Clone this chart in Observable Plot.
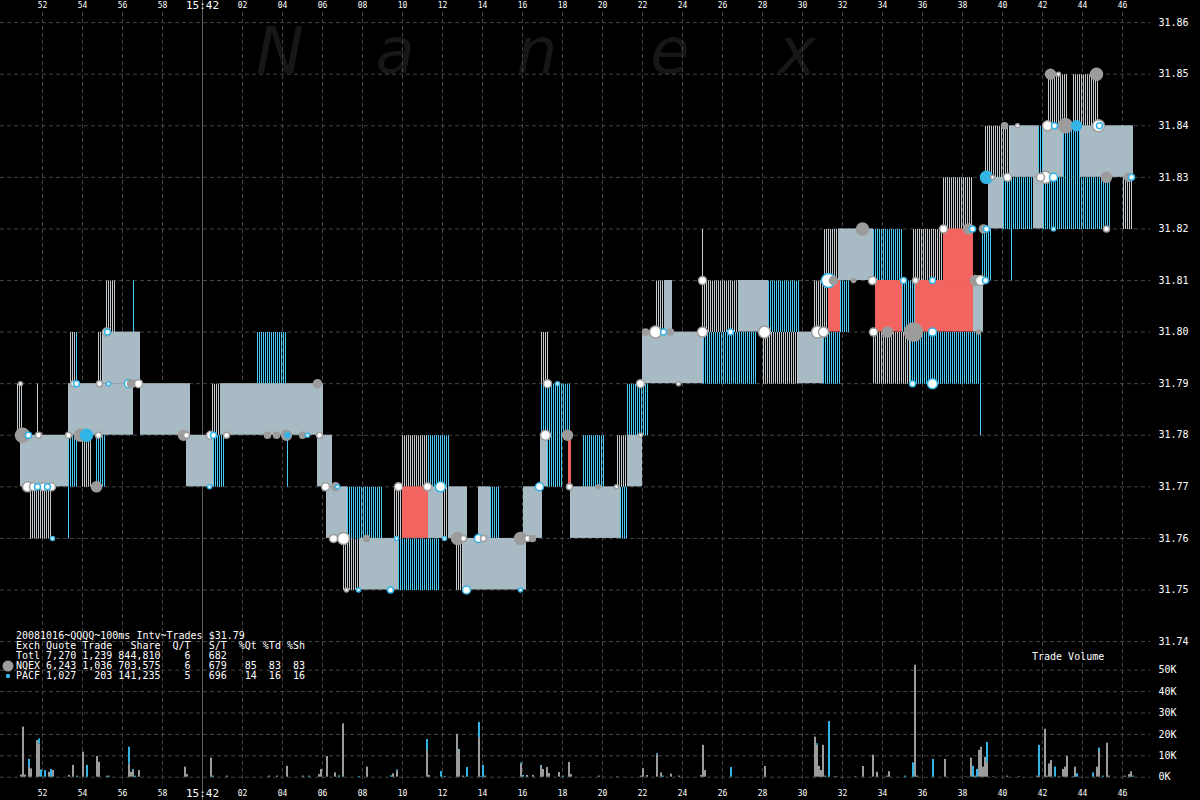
<!DOCTYPE html>
<html><head><meta charset="utf-8">
<script src="https://cdn.jsdelivr.net/npm/d3@7"></script>
<script src="https://cdn.jsdelivr.net/npm/@observablehq/plot@0.6"></script>
<style>
html,body{margin:0;padding:0;background:#000;}
#wrap{position:relative;width:1200px;height:800px;background:#000;overflow:hidden;font-family:"DejaVu Sans Mono",monospace;color:#fff;}
#wrap svg.plot{position:absolute;left:0;top:0;}
#mark{position:absolute;left:0;top:0;width:1200px;height:100px;font-family:"DejaVu Sans",sans-serif;font-style:italic;font-size:64px;line-height:64px;color:#171717;}
#mark span{position:absolute;top:19px;transform:translateX(-50%);}
#legend{position:absolute;left:16px;top:631px;font-size:10px;line-height:10px;white-space:pre;}
#vt{position:absolute;left:1032px;top:652px;font-size:10px;line-height:10px;white-space:pre;}
#lgdots{position:absolute;left:0;top:655px;}
</style></head>
<body>
<div id="wrap">
  <div id="mark"><span style="left:280px">N</span><span style="left:395px">a</span><span style="left:537px">n</span><span style="left:670px">e</span><span style="left:797px">x</span></div>
</div>
<script>
// ---------- data ----------
// time = seconds after 15:41:00
const timeTicks = [52,54,56,58,60,62,64,66,68,70,72,74,76,78,80,82,84,86,88,90,92,94,96,98,100,102,104,106];
const timeTickLabels = ["52","54","56","58","15:42","02","04","06","08","10","12","14","16","18","20","22","24","26","28","30","32","34","36","38","40","42","44","46"];
const priceTicks = [31.74,31.75,31.76,31.77,31.78,31.79,31.80,31.81,31.82,31.83,31.84,31.85,31.86];
const volTicks = [0,10,20,30,40,50];
const volTickLabels = ["0K","10K","20K","30K","40K","50K"];

// quote spreads [start, end, bid, ask]
const quotesBoth = [
[50.9,53.3,31.77,31.78],[53.3,56.55,31.78,31.79],[55.05,56.9,31.79,31.80],[56.9,59.4,31.78,31.79],
[59.2,60.55,31.77,31.78],[60.9,66.05,31.78,31.79],[65.75,66.5,31.77,31.78],[66.2,67.25,31.76,31.77],
[67.9,69.8,31.75,31.76],[71.3,72.0,31.76,31.77],[72.3,73.25,31.76,31.77],[73.05,76.2,31.75,31.76],
[73.8,74.4,31.76,31.77],[76.05,77.0,31.76,31.77],[76.9,77.25,31.77,31.78],[78.4,80.9,31.76,31.77],
[81.25,82.0,31.77,31.78],[82.0,83.4,31.79,31.80],[83.1,83.5,31.80,31.81],[83.4,85.05,31.79,31.80],
[86.8,88.3,31.80,31.81],[89.8,91.05,31.79,31.80],[91.8,93.55,31.81,31.82],[98.55,99.05,31.80,31.81],
[99.3,100.05,31.82,31.83],[101.55,102.05,31.82,31.83],[100.4,101.8,31.83,31.84],[102.05,103.05,31.83,31.84],
[103.9,106.55,31.83,31.84]
];
const quotesNQEX = [
[50.75,51.0,31.78,31.79],[51.4,52.5,31.76,31.77],[51.75,51.85,31.78,31.79],[53.4,53.7,31.79,31.80],
[54.0,54.5,31.77,31.78],[54.8,55.05,31.79,31.80],[55.2,55.65,31.80,31.81],[60.5,60.9,31.78,31.79],
[67.05,67.9,31.75,31.76],[69.6,70.0,31.76,31.77],[72.0,72.3,31.76,31.77],[70.0,71.3,31.77,31.78],
[72.7,73.05,31.75,31.76],[76.95,77.3,31.79,31.80],[80.75,81.25,31.77,31.78],[82.7,83.1,31.80,31.81],
[85.0,85.1,31.81,31.82],[85.0,86.8,31.80,31.81],[88.05,89.8,31.79,31.80],[90.6,91.3,31.80,31.81],
[91.1,91.8,31.81,31.82],[93.55,95.4,31.79,31.80],[95.55,97.05,31.81,31.82],[97.05,98.5,31.82,31.83],
[99.15,100.4,31.83,31.84],[102.3,103.3,31.84,31.85],[103.55,104.85,31.84,31.85],[106.05,106.55,31.82,31.83]
];
const quotesPACF = [
[53.3,53.4,31.76,31.77],[53.3,53.8,31.77,31.78],[53.7,53.8,31.79,31.80],[54.7,55.15,31.77,31.78],
[56.55,56.65,31.80,31.81],[60.55,61.1,31.77,31.78],[62.75,64.2,31.79,31.80],[64.25,64.35,31.77,31.78],
[67.25,69.0,31.76,31.77],[69.8,71.9,31.75,31.76],[71.3,72.4,31.77,31.78],[74.4,74.9,31.76,31.77],
[77.25,78.0,31.77,31.78],[76.95,78.4,31.78,31.79],[79.05,80.15,31.77,31.78],[80.9,81.3,31.76,31.77],
[81.25,82.3,31.78,31.79],[85.05,87.7,31.79,31.80],[88.3,89.9,31.80,31.81],[91.05,91.9,31.79,31.80],
[91.9,92.4,31.80,31.81],[93.55,95.0,31.81,31.82],[95.4,99.0,31.79,31.80],[95.0,95.65,31.80,31.81],
[98.9,99.0,31.78,31.79],[98.9,99.0,31.79,31.80],[99.0,99.5,31.81,31.82],[100.05,101.55,31.82,31.83],
[102.05,105.4,31.82,31.83],[101.8,102.05,31.83,31.84],[103.05,103.9,31.83,31.84],[100.45,100.55,31.81,31.82]
];
const quotesCrossed = [
[70.0,71.3,31.76,31.77],[78.3,78.45,31.77,31.78],[91.3,91.9,31.80,31.81],
[93.65,95.0,31.80,31.81],[95.65,98.55,31.80,31.81],[97.05,98.55,31.81,31.82]
];

// trades [time, price, exchange, shares, open(1)/filled(0)]
const trades = [
[50.9,31.79,"NQEX",400,1],[51.0,31.78,"NQEX",4900,0],[51.3,31.78,"PACF",900,1],[51.8,31.78,"NQEX",900,1],
[51.25,31.77,"NQEX",2500,1],[51.55,31.77,"NQEX",1600,1],[51.75,31.77,"PACF",900,1],[52.05,31.77,"NQEX",1600,1],
[52.25,31.77,"PACF",900,1],[52.45,31.77,"NQEX",1600,1],[52.5,31.76,"PACF",400,1],[53.3,31.78,"NQEX",900,1],
[53.9,31.78,"NQEX",3600,0],[54.2,31.78,"PACF",3600,0],[54.8,31.78,"NQEX",900,1],[54.7,31.77,"NQEX",2500,0],
[53.55,31.79,"NQEX",900,1],[53.7,31.79,"PACF",900,1],[54.85,31.79,"NQEX",900,1],[55.3,31.79,"PACF",400,1],
[55.2,31.80,"NQEX",1600,1],[55.25,31.80,"PACF",900,1],[56.3,31.79,"PACF",1600,1],[56.45,31.79,"NQEX",1600,0],
[56.8,31.79,"NQEX",1600,1],[59.05,31.78,"NQEX",2500,0],[59.2,31.78,"NQEX",900,1],[60.4,31.78,"NQEX",1600,1],
[60.55,31.78,"PACF",900,1],[61.2,31.78,"NQEX",900,1],[60.35,31.77,"PACF",400,1],[63.25,31.78,"NQEX",900,0],
[63.7,31.78,"NQEX",900,0],[64.2,31.78,"NQEX",2500,0],[64.25,31.78,"PACF",600,0],[65.0,31.78,"NQEX",900,0],
[65.25,31.78,"PACF",400,1],[65.85,31.78,"NQEX",900,1],[65.75,31.79,"NQEX",1600,0],[66.15,31.77,"NQEX",1600,1],
[66.65,31.77,"NQEX",1600,0],[66.75,31.77,"PACF",400,1],[66.55,31.76,"NQEX",1600,1],[67.05,31.76,"NQEX",3600,1],
[68.2,31.76,"NQEX",900,0],[67.2,31.75,"NQEX",400,1],[67.8,31.75,"PACF",400,1],[69.4,31.75,"PACF",900,1],
[69.7,31.76,"PACF",400,1],[69.8,31.77,"NQEX",1600,1],[71.25,31.77,"NQEX",1600,1],[71.9,31.77,"PACF",2500,1],
[72.1,31.76,"PACF",400,1],[72.75,31.76,"NQEX",3600,0],[73.05,31.76,"NQEX",900,1],[73.8,31.76,"PACF",1600,1],
[74.05,31.76,"NQEX",900,1],[73.2,31.75,"PACF",1600,1],[75.9,31.75,"PACF",400,1],[75.9,31.76,"NQEX",3600,0],
[76.25,31.76,"NQEX",900,1],[76.5,31.76,"NQEX",900,0],[76.85,31.77,"PACF",1600,1],[77.15,31.78,"NQEX",2500,1],
[78.25,31.78,"NQEX",2500,0],[78.35,31.77,"NQEX",900,1],[79.8,31.77,"NQEX",400,0],[80.7,31.77,"NQEX",400,1],
[81.9,31.78,"NQEX",400,1],[77.25,31.79,"NQEX",1600,1],[77.75,31.79,"PACF",400,1],[81.9,31.79,"NQEX",1600,1],
[82.15,31.80,"NQEX",900,0],[82.65,31.80,"NQEX",3600,1],[83.05,31.80,"PACF",900,1],[83.4,31.80,"NQEX",900,0],
[83.8,31.79,"NQEX",400,1],[85.0,31.81,"NQEX",1600,1],[85.0,31.80,"NQEX",2500,1],[86.4,31.80,"PACF",900,1],
[88.1,31.80,"NQEX",3600,1],[90.75,31.80,"NQEX",3600,1],[91.05,31.80,"NQEX",2500,1],[91.3,31.81,"PACF",4900,1],
[91.55,31.81,"NQEX",1600,0],[92.55,31.81,"NQEX",400,0],[93.5,31.81,"NQEX",1600,1],[95.05,31.81,"PACF",900,1],
[95.65,31.81,"NQEX",900,1],[96.5,31.81,"PACF",900,1],[93.0,31.82,"NQEX",3600,0],[93.55,31.80,"NQEX",1600,1],
[94.25,31.80,"NQEX",2500,0],[95.55,31.80,"NQEX",8100,0],[96.5,31.80,"PACF",1600,1],[95.5,31.79,"PACF",900,1],
[96.5,31.79,"PACF",2500,1],[97.05,31.82,"NQEX",1600,1],[98.3,31.82,"NQEX",2500,0],[98.5,31.82,"PACF",900,1],
[99.05,31.82,"NQEX",1600,0],[99.2,31.82,"PACF",900,1],[98.65,31.81,"NQEX",2500,0],[98.9,31.81,"NQEX",2500,1],
[99.15,31.81,"PACF",900,1],[98.8,31.80,"NQEX",400,0],[99.2,31.83,"PACF",3600,0],[99.5,31.83,"NQEX",400,1],
[100.25,31.83,"NQEX",1600,1],[100.1,31.84,"NQEX",900,0],[100.75,31.84,"NQEX",400,1],[101.9,31.83,"NQEX",1600,1],
[102.15,31.83,"NQEX",3600,1],[102.55,31.83,"PACF",1600,1],[102.25,31.84,"NQEX",2500,1],[102.6,31.84,"PACF",900,1],
[103.15,31.84,"NQEX",4900,0],[103.7,31.84,"PACF",2500,0],[104.8,31.84,"NQEX",3600,1],[104.85,31.84,"PACF",900,1],
[102.4,31.85,"NQEX",2500,0],[102.8,31.85,"NQEX",400,1],[104.7,31.85,"NQEX",3600,0],[102.55,31.82,"PACF",400,1],
[105.2,31.82,"NQEX",900,1],[105.2,31.83,"NQEX",2500,0],[106.3,31.83,"NQEX",1600,0],[106.45,31.83,"PACF",900,1]
];

// trade volume per 100ms interval [time, NQEX K shares, PACF K shares]
const volume = [
[50.9,1.0,0],[51.0,23.4,0],[51.1,1.0,0],[51.3,4.7,3.6],[51.4,3.9,0],[51.7,17.1,0],[51.8,15.6,2.3],
[51.9,0,3.4],[52.1,0,3.1],[52.3,2.3,0],[52.4,0,3.6],[52.5,3.1,0],[53.3,0.8,0],[53.5,5.5,0],[53.7,0,0.5],
[54.0,11.7,0],[54.2,0,5.5],[54.7,9.7,0],[54.8,7.0,0],[55.2,0,0.5],[55.3,0.5,0],[56.3,6.2,7.8],[56.4,2.3,0],
[56.5,3.0,0.6],[56.6,0,0.5],[56.8,3.1,0],[59.1,4.7,0],[59.2,1.2,0],[60.4,8.9,0],[60.5,0,0.5],[61.2,0.5,0],
[63.3,0.5,0],[63.7,0.5,0],[64.2,5.1,0],[65.0,0.5,0],[65.3,0,0.5],[65.8,1.2,0],[65.9,3.6,0],[66.2,9.7,0],
[66.6,2.0,0],[66.8,0,0.6],[67.0,24.9,0],[67.8,0,0.3],[68.2,4.7,0],[69.4,0,0.6],[69.5,1.6,0],[69.7,3.0,0.4],
[71.2,12.5,5.1],[71.3,0.8,0],[71.9,0,2.6],[72.1,0,0.3],[72.7,20.0,0],[72.8,12.5,0.5],[73.0,0.5,0],[73.2,0,4.5],
[73.8,18.5,7.1],[73.9,0,0.3],[74.0,0,5.5],[74.1,0.5,0],[75.9,6.2,0.5],[76.0,0,0.8],[76.2,0.8,0],[76.5,0.8,0],
[76.9,5.0,0.5],[77.0,3.6,0],[77.2,4.5,0],[77.3,1.7,0],[77.8,2.2,0],[78.0,0,0.5],[78.3,6.9,0],[78.4,1.2,0],
[79.8,0.5,0],[80.7,0.2,0],[81.9,0.5,0],[82.0,4.0,0],[82.2,0.8,0],[82.7,10.5,0.5],[82.9,2.0,0],[83.0,0,0.5],
[83.4,1.4,0],[83.8,0.5,0],[84.9,0.8,0],[85.0,14.9,0],[85.1,3.1,0],[86.4,0,4.5],[88.1,5.0,0],
[90.6,18.7,0],[90.7,15.0,0.6],[90.8,5.1,0],[90.9,3.1,0],[91.0,14.9,0],[91.1,0.5,0],[91.3,0,26.0],[91.6,0.2,0],
[91.7,0.2,0],[92.6,0.2,0],[93.0,5.0,0],[93.5,10.3,0],[93.7,2.3,0],[94.2,0.5,0],[94.3,2.6,0],[95.1,0,0.5],
[95.5,0,6.7],[95.6,52.3,0],[95.7,0.5,0],[96.5,0,8.3],[97.1,8.3,0],[98.1,0.2,0],[98.4,8.9,0],[98.5,0,5.1],
[98.6,0.5,0],[98.7,0,3.6],[98.8,12.5,0],[98.9,14.0,0],[99.0,4.7,0],[99.1,9.3,0],[99.2,7.0,9.2],[99.5,0.2,0],
[100.2,0.5,0],[100.8,0.2,0],[101.7,0.5,0],[101.8,0.5,14.4],[102.1,22.4,0],[102.2,0.5,0],[102.3,6.2,0],
[102.4,7.8,0],[102.6,0,4.7],[102.8,0.2,0],[103.0,3.6,0],[103.1,4.7,0],[103.2,9.7,0],[103.5,0,0.2],[103.6,4.7,0],
[103.7,0,1.6],[104.5,0,2.0],[104.7,4.7,0],[104.8,12.0,1.6],[105.0,0,0.5],[105.2,15.9,0],[105.3,0.5,0],
[106.1,0.5,0],[106.3,1.2,0],[106.4,2.5,0],[106.5,0,0.5]
];

const legendLines = [
"20081016~QQQQ~100ms Intv~Trades $31.79",
"Exch Quote Trade   Share  Q/T   S/T  %Qt %Td %Sh",
"Totl 7,270 1,239 844,810    6   682",
"NQEX 6,243 1,036 703,575    6   679   85  83  83",
"PACF 1,027   203 141,235    5   696   14  16  16"
];

// ---------- styling ----------
const GRAY = "#c3c9cc", BLUE = "#4cc8f5", BOTH = "#a8bac3", RED = "#f2645f";
const TGRAY = "#9c9c9c", TBLUE = "#33b4e6";
const GRID = "#444";
const xDomain = [49.9, 107.4];
const yDomain = [31.709189, 31.864288];
const H = 800;
const bandPx = 0.01 * H / (yDomain[1] - yDomain[0]); // height of a one-cent band in pixels

const toRect = a => a.map(([t0, t1, lo, hi]) => ({t0, t1, lo, hi, mid: (lo + hi) / 2}));
const tickObjs = timeTicks.map((t, i) => ({t, label: timeTickLabels[i]}));
const tradeObjs = trades.map(([t, p, ex, sh, open]) => ({t, p, ex, sh, open}));

// striped quote bands: a thick dashed horizontal stroke gives 1px vertical lines every 2px
const stripes = (rows, color) => Plot.ruleY(toRect(rows), {
  y: "mid", x1: "t0", x2: "t1", stroke: color, strokeWidth: bandPx, strokeDasharray: "1,1"
});

const main = Plot.plot({
  width: 1200, height: H,
  marginLeft: 0, marginRight: 50, marginTop: 0, marginBottom: 0,
  style: {background: "transparent", color: "#fff", fontFamily: "DejaVu Sans Mono, monospace"},
  x: {domain: xDomain, axis: null},
  y: {domain: yDomain},
  color: {type: "identity"},
  r: {type: "sqrt", domain: [0, 10000], range: [0, 10]},
  marks: [
    Plot.gridY(priceTicks, {stroke: GRID, strokeOpacity: 1, strokeDasharray: "4,3"}),
    Plot.gridX(timeTicks, {stroke: GRID, strokeOpacity: 1, strokeDasharray: "4,3", insetTop: 12, insetBottom: 17}),
    Plot.ruleX([60], {stroke: "#5c5c5c", strokeWidth: 1}),
    stripes(quotesNQEX, GRAY),
    stripes(quotesPACF, BLUE),
    Plot.rect(toRect(quotesBoth), {x1: "t0", x2: "t1", y1: "lo", y2: "hi", fill: BOTH}),
    Plot.rect(toRect(quotesCrossed), {x1: "t0", x2: "t1", y1: "lo", y2: "hi", fill: RED}),
    Plot.dot(tradeObjs, {
      x: "t", y: "p", r: "sh",
      fill: d => d.open ? "#fff" : (d.ex === "NQEX" ? TGRAY : TBLUE),
      stroke: d => d.ex === "NQEX" ? TGRAY : TBLUE,
      strokeWidth: 1.5
    }),
    Plot.text(tickObjs.filter(d => d.t !== 60), {x: "t", text: "label", frameAnchor: "top", dy: 5, lineAnchor: "middle", fontSize: 8, fill: "#fff"}),
    Plot.text(tickObjs.filter(d => d.t === 60), {x: "t", text: "label", frameAnchor: "top", dy: 5, lineAnchor: "middle", fontSize: 11, fill: "#fff"}),
    Plot.text(tickObjs.filter(d => d.t !== 60), {x: "t", text: "label", frameAnchor: "bottom", dy: -7, lineAnchor: "middle", fontSize: 8, fill: "#fff"}),
    Plot.text(tickObjs.filter(d => d.t === 60), {x: "t", text: "label", frameAnchor: "bottom", dy: -7, lineAnchor: "middle", fontSize: 11, fill: "#fff"}),
    Plot.axisY(priceTicks, {anchor: "right", tickSize: 0, tickPadding: 8, tickFormat: d => d.toFixed(2), fontSize: 10, fill: "#fff", label: null})
  ]
});

const volRows = [];
for (const [t, nq, pa] of volume) {
  if (nq > 0) volRows.push({t, y1: 0, y2: nq, c: TGRAY});
  if (pa > 0) volRows.push({t, y1: nq, y2: nq + pa, c: TBLUE});
}

const vol = Plot.plot({
  width: 1200, height: H,
  marginLeft: 0, marginRight: 50, marginTop: 669.7, marginBottom: 23.3,
  style: {background: "transparent", color: "#fff", fontFamily: "DejaVu Sans Mono, monospace"},
  x: {domain: xDomain, axis: null},
  y: {domain: [0, 50]},
  color: {type: "identity"},
  marks: [
    Plot.gridY(volTicks, {stroke: GRID, strokeOpacity: 1, strokeDasharray: "4,3"}),
    Plot.rect(volRows, {x1: "t", x2: d => d.t + 0.1, y1: "y1", y2: "y2", fill: "c"}),
    Plot.axisY(volTicks, {anchor: "right", tickSize: 0, tickPadding: 8, tickFormat: (d, i) => volTickLabels[i], fontSize: 10, fill: "#fff", label: null})
  ]
});

const wrap = document.getElementById("wrap");
main.classList.add("plot"); vol.classList.add("plot");
wrap.appendChild(main);
wrap.appendChild(vol);

const lg = document.createElement("div");
lg.id = "legend";
lg.textContent = legendLines.join("\n");
wrap.appendChild(lg);

const vt = document.createElement("div");
vt.id = "vt"; vt.textContent = "Trade Volume";
wrap.appendChild(vt);

const dots = d3.create("svg").attr("id", "lgdots").attr("width", 16).attr("height", 30);
dots.append("circle").attr("cx", 8).attr("cy", 11).attr("r", 5.5).attr("fill", TGRAY);
dots.append("circle").attr("cx", 8).attr("cy", 21).attr("r", 2.2).attr("fill", TBLUE);
wrap.appendChild(dots.node());
</script>
</body></html>
